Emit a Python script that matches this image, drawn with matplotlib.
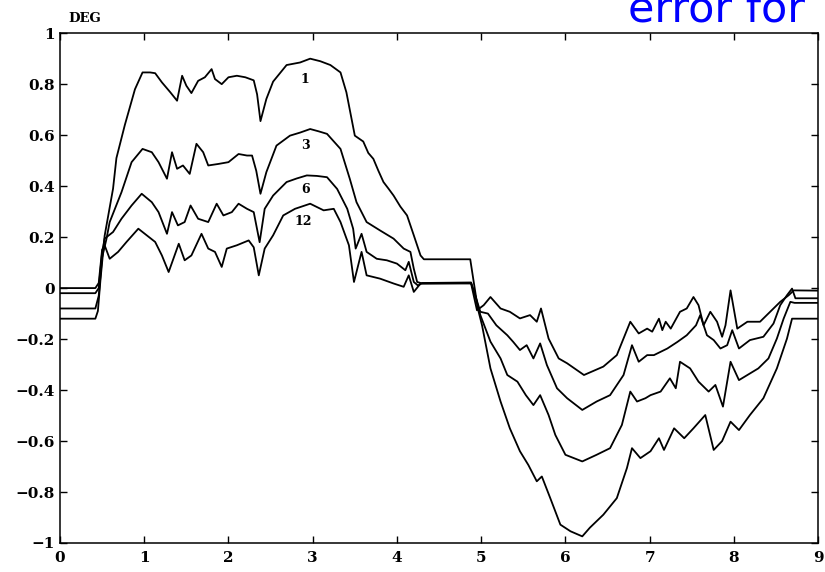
import numpy as np
import matplotlib
matplotlib.use('Agg')
import matplotlib.pyplot as plt

# curve "1"
x1 = [0, 0.42, 0.45, 0.48, 0.53, 0.63, 0.67, 0.77, 0.89, 0.98, 1.07, 1.13, 1.21, 1.31, 1.39, 1.45,
      1.50, 1.56, 1.64, 1.72, 1.80, 1.84, 1.92, 2.0, 2.10, 2.20, 2.30, 2.34, 2.38, 2.45, 2.53, 2.69,
      2.85, 2.97, 3.09, 3.21, 3.33, 3.40, 3.50, 3.60, 3.66, 3.72, 3.78, 3.84, 3.90, 3.96, 4.04, 4.12,
      4.20, 4.28, 4.32, 4.87, 4.96, 5.01, 5.11, 5.23, 5.34, 5.46, 5.56, 5.66, 5.72, 5.82, 5.94, 6.06,
      6.20, 6.29, 6.45, 6.61, 6.73, 6.79, 6.89, 7.01, 7.11, 7.17, 7.29, 7.41, 7.52, 7.66, 7.76, 7.86,
      7.96, 8.06, 8.19, 8.35, 8.51, 8.63, 8.69, 8.99]
y1 = [-0.12, -0.12, -0.09, 0.03, 0.205, 0.39, 0.51, 0.64, 0.78, 0.846, 0.846, 0.843, 0.807, 0.768, 0.735, 0.833,
      0.794, 0.765, 0.813, 0.827, 0.859, 0.82, 0.80, 0.827, 0.833, 0.827, 0.815, 0.76, 0.655, 0.742, 0.81, 0.875,
      0.885, 0.90, 0.89, 0.875, 0.846, 0.768, 0.598, 0.575, 0.53, 0.507, 0.46, 0.416, 0.39, 0.363, 0.32, 0.285,
      0.207, 0.128, 0.113, 0.113, -0.08, -0.146, -0.315, -0.445, -0.55, -0.64, -0.694, -0.758, -0.739, -0.824, -0.928, -0.954,
      -0.974, -0.94, -0.889, -0.824, -0.706, -0.628, -0.667, -0.64, -0.589, -0.635, -0.55, -0.589, -0.55, -0.498, -0.635, -0.60,
      -0.524, -0.557, -0.498, -0.432, -0.315, -0.198, -0.12, -0.12]

# curve "3"
x3 = [0, 0.42, 0.46, 0.50, 0.55, 0.59, 0.73, 0.85, 0.98, 1.09, 1.17, 1.27, 1.33, 1.39, 1.46, 1.54,
      1.62, 1.70, 1.76, 1.88, 2.0, 2.12, 2.22, 2.28, 2.33, 2.38, 2.45, 2.57, 2.73, 2.85, 2.97, 3.07,
      3.17, 3.33, 3.44, 3.52, 3.64, 3.80, 3.96, 4.08, 4.16, 4.20, 4.24, 4.30, 4.88, 4.93, 4.99, 5.11,
      5.23, 5.31, 5.43, 5.53, 5.62, 5.70, 5.80, 5.88, 6.0, 6.20, 6.37, 6.53, 6.67, 6.77, 6.85, 6.95,
      7.01, 7.13, 7.24, 7.31, 7.36, 7.48, 7.58, 7.70, 7.78, 7.87, 7.96, 8.06, 8.16, 8.29, 8.41, 8.51,
      8.59, 8.67, 8.72, 8.99]
y3 = [-0.08, -0.08, -0.03, 0.12, 0.19, 0.259, 0.376, 0.494, 0.546, 0.533, 0.494, 0.429, 0.533, 0.468, 0.481, 0.448,
      0.566, 0.533, 0.481, 0.487, 0.494, 0.526, 0.52, 0.52, 0.46, 0.37, 0.455, 0.559, 0.598, 0.61, 0.624, 0.615,
      0.605, 0.546, 0.429, 0.337, 0.259, 0.226, 0.194, 0.155, 0.142, 0.076, 0.024, 0.018, 0.02, -0.03, -0.106, -0.21,
      -0.276, -0.341, -0.367, -0.42, -0.459, -0.42, -0.498, -0.576, -0.654, -0.68, -0.654, -0.628, -0.537, -0.406, -0.445, -0.432,
      -0.42, -0.406, -0.354, -0.393, -0.289, -0.315, -0.367, -0.406, -0.38, -0.465, -0.289, -0.361, -0.341, -0.315, -0.276, -0.198,
      -0.12, -0.054, -0.058, -0.058]

# curve "6"
x6 = [0, 0.42, 0.46, 0.50, 0.53, 0.63, 0.73, 0.85, 0.97, 1.09, 1.17, 1.27, 1.33, 1.40, 1.48, 1.55,
      1.64, 1.76, 1.86, 1.94, 2.04, 2.12, 2.22, 2.30, 2.37, 2.43, 2.53, 2.69, 2.81, 2.93, 3.05, 3.17,
      3.29, 3.41, 3.48, 3.51, 3.58, 3.64, 3.76, 3.88, 4.0, 4.10, 4.14, 4.20, 4.25, 4.30, 4.88, 4.94,
      4.99, 5.08, 5.18, 5.31, 5.38, 5.46, 5.54, 5.62, 5.70, 5.78, 5.90, 6.02, 6.20, 6.37, 6.53, 6.69,
      6.79, 6.87, 6.97, 7.05, 7.21, 7.33, 7.44, 7.55, 7.60, 7.68, 7.76, 7.84, 7.92, 7.98, 8.06, 8.19,
      8.35, 8.47, 8.55, 8.63, 8.69, 8.73, 8.99]
y6 = [-0.02, -0.02, 0.0, 0.14, 0.194, 0.22, 0.272, 0.324, 0.37, 0.337, 0.298, 0.213, 0.298, 0.246, 0.259, 0.324,
      0.272, 0.259, 0.331, 0.285, 0.298, 0.331, 0.311, 0.298, 0.18, 0.311, 0.363, 0.416, 0.43, 0.442, 0.44, 0.435,
      0.389, 0.311, 0.233, 0.155, 0.213, 0.142, 0.115, 0.109, 0.096, 0.07, 0.103, 0.024, 0.01, 0.02, 0.022, -0.04,
      -0.093, -0.1, -0.146, -0.185, -0.211, -0.243, -0.224, -0.276, -0.217, -0.302, -0.393, -0.432, -0.478, -0.445, -0.42, -0.341,
      -0.224, -0.289, -0.263, -0.263, -0.237, -0.211, -0.185, -0.146, -0.106, -0.185, -0.204, -0.237, -0.224, -0.165, -0.237, -0.204,
      -0.191, -0.139, -0.067, -0.028, -0.002, -0.04, -0.04]

# curve "12"
x12 = [0, 0.42, 0.46, 0.50, 0.53, 0.59, 0.69, 0.79, 0.93, 1.03, 1.13, 1.21, 1.29, 1.41, 1.48, 1.56,
       1.68, 1.76, 1.84, 1.92, 1.98, 2.10, 2.24, 2.30, 2.36, 2.43, 2.53, 2.65, 2.79, 2.97, 3.13, 3.25,
       3.33, 3.43, 3.49, 3.58, 3.64, 3.80, 3.96, 4.08, 4.14, 4.20, 4.28, 4.88, 4.95, 5.03, 5.11, 5.23,
       5.34, 5.46, 5.58, 5.66, 5.71, 5.80, 5.92, 6.02, 6.22, 6.45, 6.61, 6.77, 6.87, 6.97, 7.03, 7.11,
       7.15, 7.19, 7.25, 7.36, 7.44, 7.52, 7.58, 7.64, 7.72, 7.80, 7.86, 7.90, 7.96, 8.04, 8.16, 8.31,
       8.43, 8.55, 8.65, 8.71, 8.99]
y12 = [0.0, 0.0, 0.02, 0.15, 0.168, 0.115, 0.142, 0.181, 0.233, 0.207, 0.181, 0.128, 0.063, 0.174, 0.109, 0.128,
       0.213, 0.155, 0.142, 0.083, 0.155, 0.168, 0.187, 0.16, 0.05, 0.155, 0.207, 0.285, 0.311, 0.331, 0.305, 0.311,
       0.259, 0.168, 0.024, 0.142, 0.05, 0.037, 0.018, 0.005, 0.05, -0.015, 0.018, 0.018, -0.087, -0.067, -0.035, -0.08,
       -0.093, -0.119, -0.106, -0.132, -0.08, -0.198, -0.276, -0.295, -0.341, -0.308, -0.263, -0.132, -0.178, -0.159, -0.171, -0.12,
       -0.165, -0.132, -0.159, -0.093, -0.08, -0.035, -0.067, -0.146, -0.093, -0.132, -0.191, -0.146, -0.009, -0.159, -0.132, -0.132,
       -0.093, -0.054, -0.028, -0.009, -0.01]

curve_labels = ['1', '3', '6', '12']
label_x = [2.91, 2.91, 2.91, 2.89]
label_y = [0.82, 0.56, 0.385, 0.26]

xticks = list(range(10))
yticks = [1, 0.8, 0.6, 0.4, 0.2, 0, -0.2, -0.4, -0.6, -0.8, -1]
ytick_labels = ['1', '0.8', '0.6', '0.4', '0.2', '0', '\u22120.2', '\u22120.4', '\u22120.6', '\u22120.8', '\u22121']

serif = 'DejaVu Serif'

fig = plt.figure(figsize=(8.25, 5.72), dpi=100)
ax = fig.add_axes([0.0727, 0.0507, 0.919, 0.8913])

for xs, ys in [(x1, y1), (x3, y3), (x6, y6), (x12, y12)]:
    ax.plot(xs, ys, color='black', lw=1.3)

for lab, lx, ly in zip(curve_labels, label_x, label_y):
    ax.text(lx, ly, lab, fontsize=9, family=serif, fontweight='bold', ha='center', va='center')

ax.set_xlim(0, 9)
ax.set_ylim(-1, 1)
ax.set_xticks(xticks)
ax.set_xticklabels([str(t) for t in xticks], family=serif, fontweight='bold', fontsize=11)
ax.set_yticks(yticks)
ax.set_yticklabels(ytick_labels, family=serif, fontweight='bold', fontsize=11)
ax.tick_params(direction='in', length=5, width=1, top=True, right=True)
ax.tick_params(axis='y', pad=4)
ax.tick_params(axis='x', pad=6)
for sp in ax.spines.values():
    sp.set_linewidth(1.1)

fig.text(68 / 825, 1 - 18 / 572, 'DEG', family=serif, fontweight='bold', fontsize=9.5,
         ha='left', va='center')
fig.text(628 / 825, 1 - 22 / 572, 'error for', color='#0000ff', fontsize=31,
         family='DejaVu Sans', ha='left', va='baseline')

fig.savefig('out.png', dpi=100)
